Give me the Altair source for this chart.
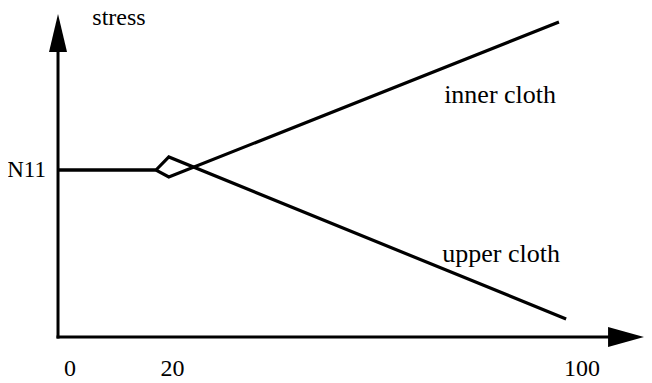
import altair as alt
import pandas as pd

# ---- data (schematic units: x = strain-like axis, y = stress with N11 = 1) ----
N11 = 1.0
axis_x0 = -2.34          # position of the stress axis on the x scale
x_axis_end = 105.2       # where the horizontal axis line meets its arrowhead
y_axis_end = 1.707       # where the vertical axis line meets its arrowhead
x_arrow_at = 108.6
y_arrow_at = 1.820

x_inner = [-2.34, 16.8, 19.3, 95.5]
y_inner = [1.0, 1.0, 0.958, 1.886]
x_upper = [-2.34, 16.8, 19.3, 96.9]
y_upper = [1.0, 1.0, 1.078, 0.108]

tick_values = [0, 20, 100]
tick_labels = ["0", "20", "100"]

series_labels = ["inner cloth", "upper cloth"]
series_label_x = [84.0, 84.2]
series_label_y = [1.401, 0.449]

y_title = "stress"
y_title_x, y_title_y = 9.57, 1.868
level_label = "N11"
level_label_x = -4.7

# ---- tables ----
lines = pd.DataFrame(
    [{"series": "inner cloth", "order": i, "x": x, "y": y} for i, (x, y) in enumerate(zip(x_inner, y_inner))]
    + [{"series": "upper cloth", "order": i, "x": x, "y": y} for i, (x, y) in enumerate(zip(x_upper, y_upper))]
)
rules = pd.DataFrame([
    {"x": axis_x0, "x2": axis_x0, "y": 0.0, "y2": y_axis_end},
    {"x": axis_x0, "x2": x_axis_end, "y": 0.0, "y2": 0.0},
])
ticks = pd.DataFrame({"x": tick_values, "label": tick_labels, "y": [0.0] * 3})
slabels = pd.DataFrame({"x": series_label_x, "y": series_label_y, "label": series_labels})
ytitle = pd.DataFrame({"x": [y_title_x], "y": [y_title_y], "label": [y_title]})
level = pd.DataFrame({"x": [level_label_x], "y": [N11], "label": [level_label]})
yarrow = pd.DataFrame({"x": [axis_x0], "y": [y_arrow_at]})
xarrow = pd.DataFrame({"x": [x_arrow_at], "y": [0.0]})

xs = alt.Scale(domain=[-12.109, 112.109], nice=False, zero=False)
ys = alt.Scale(domain=[-0.2754, 1.9701], nice=False, zero=False)
X = lambda f="x": alt.X(f"{f}:Q", scale=xs, axis=None)
Y = lambda f="y": alt.Y(f"{f}:Q", scale=ys, axis=None)
FONT = "Liberation Serif"

line_layer = alt.Chart(lines).mark_line(color="black", strokeWidth=3.2).encode(
    x=X(), y=Y(), detail="series:N", order="order:Q"
)
rule_layer = alt.Chart(rules).mark_rule(color="black", strokeWidth=3, strokeCap="square").encode(
    x=X(), x2="x2:Q", y=Y(), y2="y2:Q"
)
yarrow_layer = alt.Chart(yarrow).mark_point(
    shape="M0,-1L0.4737,1L-0.4737,1Z", size=1444, filled=True, color="black", opacity=1
).encode(x=X(), y=Y())
xarrow_layer = alt.Chart(xarrow).mark_point(
    shape="M1,0L-1,-0.55L-1,0.55Z", size=1296, filled=True, color="black", opacity=1
).encode(x=X(), y=Y())

tick_layer = alt.Chart(ticks).mark_text(
    font=FONT, fontSize=24, color="black", align="center", baseline="alphabetic", dy=39
).encode(x=X(), y=Y(), text="label:N")
slabel_layer = alt.Chart(slabels).mark_text(
    font=FONT, fontSize=26, color="black", align="center", baseline="alphabetic"
).encode(x=X(), y=Y(), text="label:N")
ytitle_layer = alt.Chart(ytitle).mark_text(
    font=FONT, fontSize=24, color="black", align="center", baseline="alphabetic"
).encode(x=X(), y=Y(), text="label:N")
level_layer = alt.Chart(level).mark_text(
    font=FONT, fontSize=23, color="black", align="right", baseline="alphabetic", dy=7
).encode(x=X(), y=Y(), text="label:N")

chart = alt.layer(
    rule_layer, yarrow_layer, xarrow_layer, line_layer,
    tick_layer, slabel_layer, ytitle_layer, level_layer
).properties(
    width=636, height=375, padding=0,
    autosize=alt.AutoSizeParams(type="none"),
    background="white",
).configure_view(stroke=None)

chart.save("out.html", embed_options={"renderer": "svg", "actions": False})
